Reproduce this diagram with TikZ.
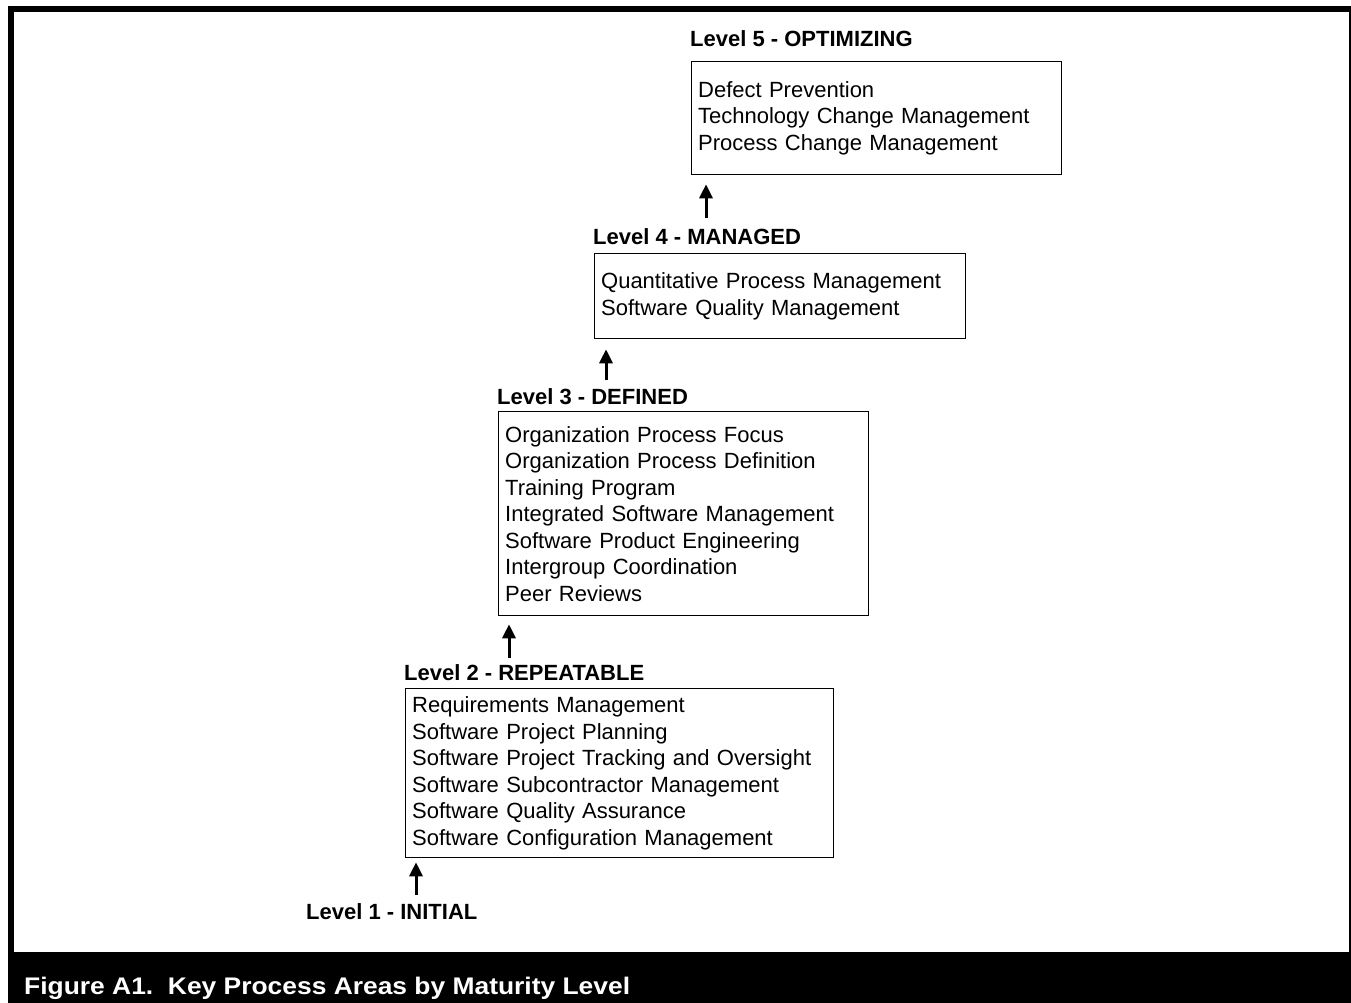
\documentclass[tikz,border=0pt]{standalone}
\usepackage{fontspec}
\setmainfont{Liberation Sans}
\newfontfamily\capfont[FakeStretch=1.1]{Liberation Sans}
\usetikzlibrary{arrows.meta}
\begin{document}
\begin{tikzpicture}[x=1pt,y=-1pt,
  kpa/.style={draw=black, line width=1.3pt, anchor=north west, inner xsep=6.5pt, inner ysep=0pt, align=left, font=\fontsize{22}{26.5}\selectfont},
  lvl/.style={anchor=base west, inner sep=0pt, font=\fontsize{22}{26}\selectfont\bfseries},
  arr/.style={line width=3pt, -{Triangle[width=13pt,length=14pt]}}]
\useasboundingbox (0,0) rectangle (1351,1003);
\fill[white] (0,0) rectangle (1351,1003);
\fill[black] (8,6) rectangle (1360,1010);
\fill[white] (14,12) rectangle (1349,952);

% boxes
\node[kpa, text width=357pt, minimum height=113pt] (b5) at (691,61)
  {Defect Prevention\\Technology Change Management\\Process Change Management};
\node[kpa, text width=358pt, minimum height=85pt] (b4) at (594,253)
  {Quantitative Process Management\\Software Quality Management};
\node[kpa, text width=357pt, minimum height=204pt] (b3) at (498,411)
  {Organization Process Focus\\Organization Process Definition\\Training Program\\Integrated Software Management\\Software Product Engineering\\Intergroup Coordination\\Peer Reviews};
\node[kpa, text width=415pt, minimum height=169pt] (b2) at (405,688)
  {Requirements Management\\Software Project Planning\\Software Project Tracking and Oversight\\Software Subcontractor Management\\Software Quality Assurance\\Software Configuration Management};

% headings
\node[lvl] (h5) at (690,47) {Level 5 - OPTIMIZING};
\node[lvl] (h4) at (593,244) {Level 4 - MANAGED};
\node[lvl] (h3) at (497,404) {Level 3 - DEFINED};
\node[lvl] (h2) at (404,680) {Level 2 - REPEATABLE};
\node[lvl] (h1) at (306,919) {Level 1 - INITIAL};

% arrow tips
\coordinate (t5) at ([shift={(15,9)}]b5.south west);
\coordinate (t4) at ([shift={(12,10)}]b4.south west);
\coordinate (t3) at ([shift={(11,8)}]b3.south west);
\coordinate (t2) at ([shift={(11,4)}]b2.south west);

\draw[arr] (h4.base west -| t5) ++(0,-26) -- (t5);
\draw[arr] (h3.base west -| t4) ++(0,-24) -- (t4);
\draw[arr] (h2.base west -| t3) ++(0,-22) -- (t3);
\draw[arr] (h1.base west -| t2) ++(0,-24) -- (t2);

% caption
\node[anchor=base west, inner sep=0pt, text=white, font=\capfont\fontsize{24}{28}\selectfont\bfseries] (cap) at (24,994)
  {Figure A1.\ \ Key Process Areas by Maturity Level};
\end{tikzpicture}
\end{document}
